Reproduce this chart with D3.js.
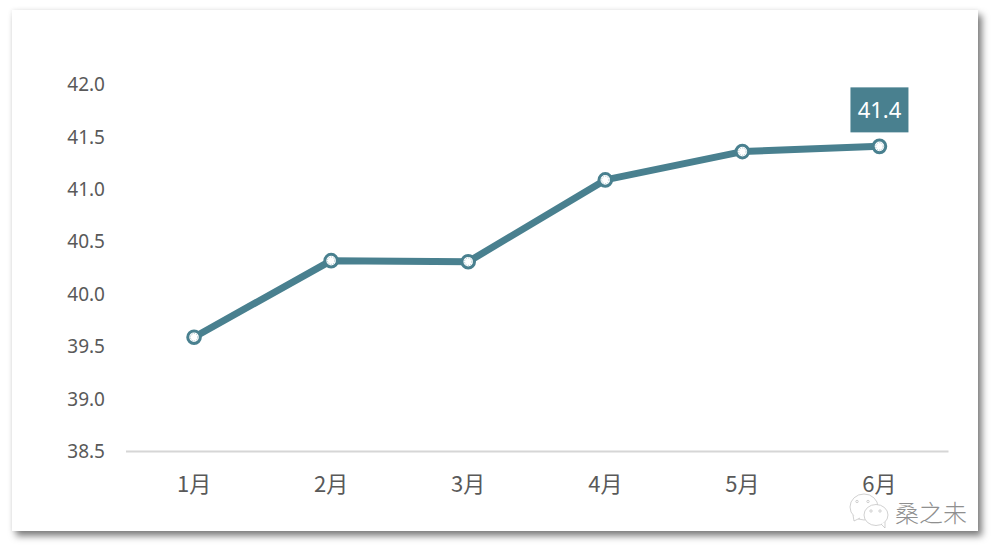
<!DOCTYPE html>
<html><head><meta charset="utf-8">
<style>html,body{margin:0;padding:0;background:#fff}svg{display:block}</style>
<script src="https://cdnjs.cloudflare.com/ajax/libs/d3/7.8.5/d3.min.js"></script>
</head><body><div id="c"></div>
<script>
const months = ["1月","2月","3月","4月","5月","6月"];
const values = [39.59,40.32,40.31,41.09,41.36,41.41];
const yTicks = [38.5,39.0,39.5,40.0,40.5,41.0,41.5,42.0];
const highlightLabel = "41.4";
const watermark = "桑之未";
const color = "#49808f";
const font = "'Noto Sans CJK SC','Noto Sans',sans-serif";

const svg = d3.select("#c").append("svg").attr("width",999).attr("height",556);
const defs = svg.append("defs");
const f = defs.append("filter").attr("id","sh").attr("x","-5%").attr("y","-5%").attr("width","110%").attr("height","110%");
f.append("feDropShadow").attr("dx",4).attr("dy",5).attr("stdDeviation",3.5).attr("flood-color","#000").attr("flood-opacity",0.5);
const f2 = defs.append("filter").attr("id","sh2").attr("x","-5%").attr("y","-5%").attr("width","110%").attr("height","110%");
f2.append("feDropShadow").attr("dx",0).attr("dy",0).attr("stdDeviation",2).attr("flood-color","#000").attr("flood-opacity",0.08);

svg.append("rect").attr("x",12).attr("y",10).attr("width",966).attr("height",521).attr("fill","#fff").attr("filter","url(#sh2)");
svg.append("rect").attr("x",12).attr("y",10).attr("width",966).attr("height",521).attr("fill","#fff").attr("filter","url(#sh)");

const x = d3.scaleBand().domain(months).range([125.5,948]);
const y = d3.scaleLinear().domain([38.5,42]).range([451.5,84.5]);

const gx = svg.append("g").attr("transform","translate(0,451)")
  .call(d3.axisBottom(x).tickSize(0).tickPadding(25));
gx.select(".domain").attr("stroke","#d6d6d6").attr("stroke-width",2);
gx.selectAll("text").attr("font-family",font).attr("font-size",22).attr("fill","#595959");

const gy = svg.append("g").attr("transform","translate(105,0)")
  .call(d3.axisLeft(y).tickValues(yTicks).tickFormat(d3.format(".1f")).tickSize(0).tickPadding(0));
gy.select(".domain").remove();
gy.selectAll("text").attr("font-family","'Noto Sans',sans-serif").attr("font-size",19).attr("fill","#595959");

const px = (d,i)=>x(months[i])+x.bandwidth()/2;
svg.append("path").datum(values)
  .attr("d",d3.line().x(px).y(d=>y(d)))
  .attr("fill","none").attr("stroke",color).attr("stroke-width",7).attr("stroke-linejoin","round");

const pts = svg.selectAll("g.pt").data(values).join("g").attr("class","pt")
  .attr("transform",(d,i)=>`translate(${px(d,i)},${y(d)})`);
pts.append("circle").attr("r",6.3).attr("fill","#fff").attr("stroke",color).attr("stroke-width",3);
pts.append("circle").attr("r",3.7).attr("fill","#fff").attr("stroke","#a9c4cc").attr("stroke-width",1).attr("stroke-dasharray","1.2 1.2");

const lx = px(values[5],5), ly = y(values[5]);
svg.append("rect").attr("x",lx-29).attr("y",ly-59).attr("width",58).attr("height",45).attr("fill",color);
svg.append("text").attr("x",lx).attr("y",ly-28).attr("text-anchor","middle")
  .attr("font-family","'Noto Sans',sans-serif").attr("font-size",22).attr("fill","#fff").text(highlightLabel);

// watermark
const wm = svg.append("g").attr("fill","#fff").attr("stroke","#bdbdbd").attr("stroke-width",0.7);
wm.append("ellipse").attr("cx",864).attr("cy",507).attr("rx",14).attr("ry",13);
wm.append("path").attr("d","M853 515 L854 521 L860 518");
wm.append("ellipse").attr("cx",876).attr("cy",515).attr("rx",12).attr("ry",10.5);
wm.append("path").attr("d","M881 524 L885 528 L885 522");
wm.selectAll("circle.e").data([[857,501.5],[868,501.5],[871,511],[880,511]]).join("circle").attr("class","e")
  .attr("cx",d=>d[0]).attr("cy",d=>d[1]).attr("r",1.2).attr("fill","none");
svg.append("text").attr("x",895).attr("y",522).attr("font-family",font).attr("font-weight",200)
  .attr("font-size",24).attr("fill","#8f8f8f").text(watermark);
</script></body></html>
